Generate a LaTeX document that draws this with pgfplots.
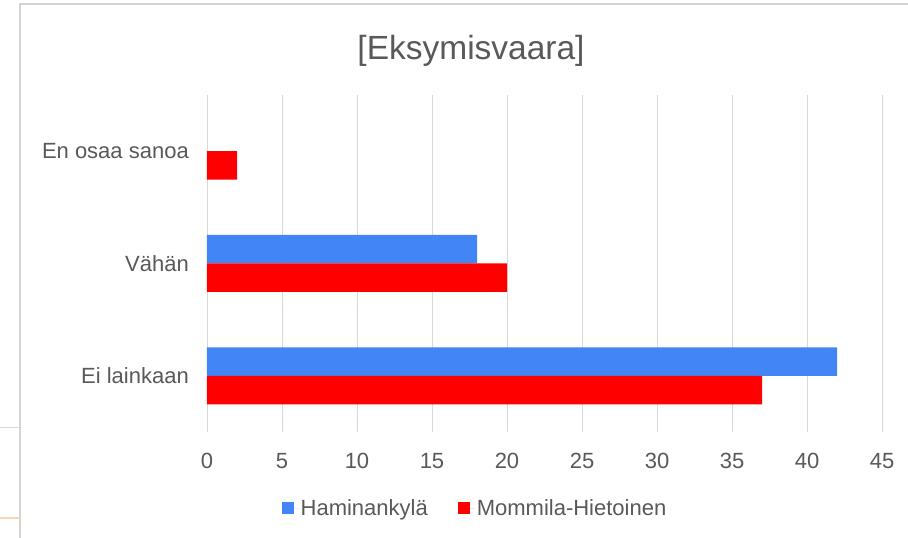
\documentclass[border=0pt]{standalone}
\usepackage{pgfplots}
\pgfplotsset{compat=1.18}
\usepackage{fontspec}
\setmainfont{Liberation Sans}
\definecolor{txt}{HTML}{595959}
\definecolor{gblue}{HTML}{4285F4}
\definecolor{gred}{HTML}{FF0000}
\definecolor{gridc}{HTML}{D9D9D9}
\definecolor{frame}{HTML}{D4D4D4}
\definecolor{orng}{HTML}{FAD7B0}
\begin{document}
\begin{tikzpicture}
\useasboundingbox (0,0) rectangle (908pt,538pt);
\fill[white] (0,0) rectangle (908pt,538pt);
\draw[frame, line width=1.5pt] (20pt,0) -- (20pt,534pt) -- (908pt,534pt);
\draw[gridc, line width=1pt] (0,110pt) -- (20pt,110pt);
\draw[orng, line width=1.5pt] (0,20pt) -- (20pt,20pt);
\node[anchor=base, text=txt, font=\fontsize{33.5}{38}\selectfont] at (471pt,478pt) {[Eksymisvaara]};
\begin{axis}[
  at={(207pt,106pt)}, anchor=south west,
  scale only axis, width=675pt, height=337pt,
  xbar, bar width=28.5pt,
  xmin=0, xmax=45, ymin=-0.5, ymax=2.5,
  xtick={0,5,...,45},
  ytick={0,1,2},
  yticklabels={Ei lainkaan, Vähän, En osaa sanoa},
  axis line style={draw=none},
  major tick length=0pt,
  xmajorgrids, major grid style={gridc, line width=0.8pt},
  font=\fontsize{22}{26}\selectfont,
  /pgf/number format/assume math mode=true,
  tick label style={text=txt},
  xticklabel style={anchor=center, yshift=-29pt, inner sep=0pt},
  yticklabel style={anchor=east, xshift=-18pt, inner sep=0pt},
  legend columns=2,
  legend style={at={(0.397,-0.226)}, anchor=center, draw=none, fill=none,
    text=txt, font=\fontsize{22}{26}\selectfont,
    /tikz/every even column/.append style={column sep=28pt},
    inner sep=0pt},
  legend image code/.code={\fill (0pt,-6pt) rectangle (12pt,6pt); \path (0pt,0pt) -- (17pt,0pt);},
]
\addplot[fill=gblue, draw=none, bar shift=14.25pt] coordinates {(42,0) (18,1)};
\addlegendentry{Haminankylä}
\addplot[fill=gred, draw=none, bar shift=-14.25pt] coordinates {(37,0) (20,1) (2,2)};
\addlegendentry{Mommila-Hietoinen}
\end{axis}
\end{tikzpicture}
\end{document}
